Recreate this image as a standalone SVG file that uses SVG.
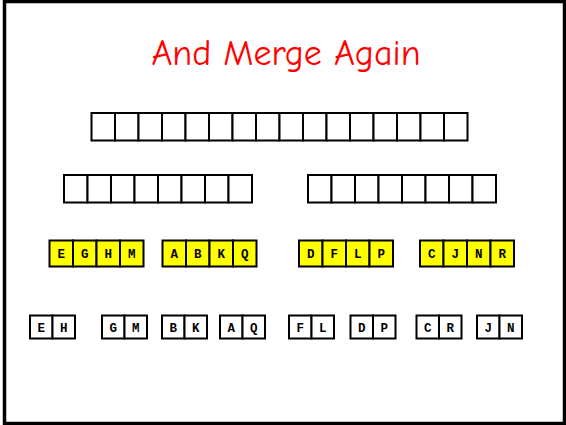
<svg xmlns="http://www.w3.org/2000/svg" width="566" height="425" viewBox="0 0 566 425">
<style>
.b{fill:#fff;stroke:#000;stroke-width:2}
.y{fill:#ffff00;stroke:#000;stroke-width:2}
.t{font-family:"Liberation Mono","Courier New",monospace;font-weight:bold;font-size:12.5px;text-anchor:middle;fill:#000}
</style>
<defs>
<g id="e"><rect class="b" width="23.5" height="27.5"/></g>
<g id="yc"><rect class="y" width="23.5" height="26"/></g>
<g id="s"><rect class="b" width="22.5" height="23"/></g>
</defs>
<rect x="4.5" y="1.5" width="560" height="422" fill="#fff" stroke="#000" stroke-width="3.5"/>
<text x="286" y="65" font-family="'Comic Neue','Liberation Sans',sans-serif" font-size="36" fill="#ff0000" text-anchor="middle">And Merge Again</text>
<g id="row1">
<use href="#e" x="91.5" y="113"/><use href="#e" x="115" y="113"/><use href="#e" x="138.5" y="113"/><use href="#e" x="162" y="113"/>
<use href="#e" x="185.5" y="113"/><use href="#e" x="209" y="113"/><use href="#e" x="232.5" y="113"/><use href="#e" x="256" y="113"/>
<use href="#e" x="279.5" y="113"/><use href="#e" x="303" y="113"/><use href="#e" x="326.5" y="113"/><use href="#e" x="350" y="113"/>
<use href="#e" x="373.5" y="113"/><use href="#e" x="397" y="113"/><use href="#e" x="420.5" y="113"/><use href="#e" x="444" y="113"/>
</g>
<g id="row2-left">
<use href="#e" x="64" y="175"/><use href="#e" x="87.5" y="175"/><use href="#e" x="111" y="175"/><use href="#e" x="134.5" y="175"/>
<use href="#e" x="158" y="175"/><use href="#e" x="181.5" y="175"/><use href="#e" x="205" y="175"/><use href="#e" x="228.5" y="175"/>
</g>
<g id="row2-right">
<use href="#e" x="308" y="175"/><use href="#e" x="331.5" y="175"/><use href="#e" x="355" y="175"/><use href="#e" x="378.5" y="175"/>
<use href="#e" x="402" y="175"/><use href="#e" x="425.5" y="175"/><use href="#e" x="449" y="175"/><use href="#e" x="472.5" y="175"/>
</g>
<g id="EGHM">
<use href="#yc" x="49.5" y="240.5"/><use href="#yc" x="73" y="240.5"/><use href="#yc" x="96.5" y="240.5"/><use href="#yc" x="120" y="240.5"/>
<text class="t" x="61.25" y="257.5">E</text><text class="t" x="84.75" y="257.5">G</text><text class="t" x="108.25" y="257.5">H</text><text class="t" x="131.75" y="257.5">M</text>
</g>
<g id="ABKQ">
<use href="#yc" x="162.5" y="240.5"/><use href="#yc" x="186" y="240.5"/><use href="#yc" x="209.5" y="240.5"/><use href="#yc" x="233" y="240.5"/>
<text class="t" x="174.25" y="257.5">A</text><text class="t" x="197.75" y="257.5">B</text><text class="t" x="221.25" y="257.5">K</text><text class="t" x="244.75" y="257.5">Q</text>
</g>
<g id="DFLP">
<use href="#yc" x="299" y="240.5"/><use href="#yc" x="322.5" y="240.5"/><use href="#yc" x="346" y="240.5"/><use href="#yc" x="369.5" y="240.5"/>
<text class="t" x="310.75" y="257.5">D</text><text class="t" x="334.25" y="257.5">F</text><text class="t" x="357.75" y="257.5">L</text><text class="t" x="381.25" y="257.5">P</text>
</g>
<g id="CJNR">
<use href="#yc" x="420" y="240.5"/><use href="#yc" x="443.5" y="240.5"/><use href="#yc" x="467" y="240.5"/><use href="#yc" x="490.5" y="240.5"/>
<text class="t" x="431.75" y="257.5">C</text><text class="t" x="455.25" y="257.5">J</text><text class="t" x="478.75" y="257.5">N</text><text class="t" x="502.25" y="257.5">R</text>
</g>
<g id="EH"><use href="#s" x="30" y="315.5"/><use href="#s" x="52.5" y="315.5"/><text class="t" x="41.25" y="331.5">E</text><text class="t" x="63.75" y="331.5">H</text></g>
<g id="GM"><use href="#s" x="102" y="315.5"/><use href="#s" x="124.5" y="315.5"/><text class="t" x="113.25" y="331.5">G</text><text class="t" x="135.75" y="331.5">M</text></g>
<g id="BK"><use href="#s" x="162" y="315.5"/><use href="#s" x="184.5" y="315.5"/><text class="t" x="173.25" y="331.5">B</text><text class="t" x="195.75" y="331.5">K</text></g>
<g id="AQ"><use href="#s" x="220" y="315.5"/><use href="#s" x="242.5" y="315.5"/><text class="t" x="231.25" y="331.5">A</text><text class="t" x="253.75" y="331.5">Q</text></g>
<g id="FL"><use href="#s" x="289" y="315.5"/><use href="#s" x="311.5" y="315.5"/><text class="t" x="300.25" y="331.5">F</text><text class="t" x="322.75" y="331.5">L</text></g>
<g id="DP"><use href="#s" x="350.5" y="315.5"/><use href="#s" x="373" y="315.5"/><text class="t" x="361.75" y="331.5">D</text><text class="t" x="384.25" y="331.5">P</text></g>
<g id="CR"><use href="#s" x="416.5" y="315.5"/><use href="#s" x="439" y="315.5"/><text class="t" x="427.75" y="331.5">C</text><text class="t" x="450.25" y="331.5">R</text></g>
<g id="JN"><use href="#s" x="477" y="315.5"/><use href="#s" x="499.5" y="315.5"/><text class="t" x="488.25" y="331.5">J</text><text class="t" x="510.75" y="331.5">N</text></g>
<g id="connectors"/>
</svg>
